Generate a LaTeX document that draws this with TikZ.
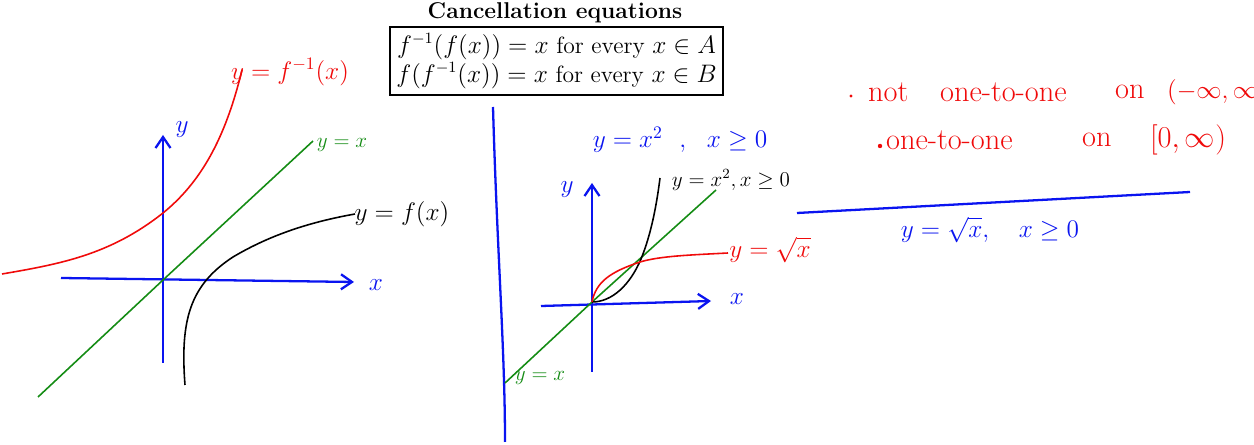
\documentclass[tikz,border=0pt]{standalone}
\usepackage{amsmath,amssymb}
\usepackage{tikz}
\usetikzlibrary{arrows.meta}
\usepackage{xcolor}
\definecolor{PenBlue}{RGB}{10,20,240}
\definecolor{PenRed}{RGB}{240,10,10}
\definecolor{PenGreen}{RGB}{20,140,20}
\tikzset{
	>={Straight Barb[length=2.2mm,width=3mm]},
	axis/.style={PenBlue, line width=1.3pt, ->},
	wall/.style={PenBlue, line width=1.3pt},
	diag/.style={PenGreen, line width=0.9pt},
	graphf/.style={black, line width=0.9pt},
	graphinv/.style={PenRed, line width=0.9pt},
	hand/.style={font=\Large, inner sep=1pt},
	note/.style={PenRed, font=\LARGE, inner sep=1pt, anchor=west},
}
\begin{document}
\begin{tikzpicture}[x=0.02cm, y=-0.02cm]
			
			% Frame of the page
			\clip (0,0) rectangle (1254,445);
			\fill[white] (0,0) rectangle (1254,445);
			
			% Title and boxed equations
			\node[font=\fontsize{13}{15}\selectfont\bfseries] (title) at (555,13) {Cancellation equations};
			\node[draw, line width=1.4pt, minimum width=6.66cm, minimum height=1.36cm,
			font=\fontsize{13.4}{16.5}\selectfont, align=center] (eqbox) at (556.5,61)
			{$f^{-1}(f(x))=x$ for every $x\in A$\\ $f(f^{-1}(x))=x$ for every $x\in B$};
			
			% Left graph: axes
			\coordinate (O1) at (163,280);
			\draw[axis] (163,363) -- (163,135);
			\draw[axis] (61,278) -- (354,282);
			\node[hand, PenBlue] (ylab1) at (182,130) {$y$};
			\node[hand, PenBlue] (xlab1) at (376,285) {$x$};
			
			% y = x
			\draw[diag] (38,397) -- (O1) -- (313,141);
			\node[hand, PenGreen, font=\large] (idlab1) at (342,145) {$y=x$};
			
			% y = f^{-1}(x)
			\draw[graphinv] (2,274) .. controls (60,264) and (110,255) .. (163,213)
			.. controls (200,183) and (225,140) .. (242,70);
			\node[hand, PenRed] (invlab) at (290,72) {$y=f^{-1}(x)$};
			
			% y = f(x)
			\draw[graphf] (185,385) .. controls (180,320) and (190,285) .. (233,257)
			.. controls (270,235) and (310,222) .. (355,214);
			\node[hand] (flab) at (402,214) {$y=f(x)$};
			
			% Separator
			\draw[wall] (493,107) .. controls (497,250) and (505,350) .. (505,442);
			
			% Middle graph
			\node[hand, PenBlue] (sqlab) at (680,140) {$y=x^2\ \ ,\ \ x\geq 0$};
			\coordinate (O2) at (592,302);
			\draw[axis] (592,372) -- (592,183);
			\draw[axis] (541,306) -- (711,301);
			\node[hand, PenBlue] (ylab2) at (567,190) {$y$};
			\node[hand, PenBlue] (xlab2) at (737,299) {$x$};
			\draw[diag] (505,383) -- (O2) -- (716,190);
			\node[hand, PenGreen, font=\large] (idlab2) at (540,378) {$y=x$};
			
			% y = x^2, x >= 0
			\draw[graphf] (O2) .. controls (612,302) and (630,285) .. (641,259)
			.. controls (650,237) and (656,210) .. (660,178);
			\node[hand, font=\large] (sqblab) at (731,180) {$y=x^2, x\geq 0$};
			
			% y = sqrt(x)
			\draw[graphinv] (O2) .. controls (596,282) and (610,272) .. (640,262)
			.. controls (660,256) and (690,255) .. (728,253);
			\node[hand, PenRed] (rtlab) at (770,250) {$y=\sqrt{x}$};
			
			% Right notes
			\fill[PenRed] (851,96) circle (1.6);
			\node[note] (nonote) at (866,92) {not};
			\node[note] (nootoo) at (938,92) {one-to-one};
			\node[note] (noon) at (1113,92) {on};
			\node[note, font=\Large] (nodom) at (1165,92) {$(-\infty,\infty)$};
			\fill[PenRed] (880,146) circle (2.2);
			\node[note] (yesnote) at (884,140) {one-to-one};
			\node[note] (yeson) at (1080,140) {on};
			\node[note] (yesdom) at (1148,140) {$[0,\infty)$};
			\draw[wall] (797,213) -- (1190,192);
			\node[hand, PenBlue] (rootlab) at (990,230) {$y=\sqrt{x},\quad x\geq 0$};
			
		\end{tikzpicture}
\end{document}
